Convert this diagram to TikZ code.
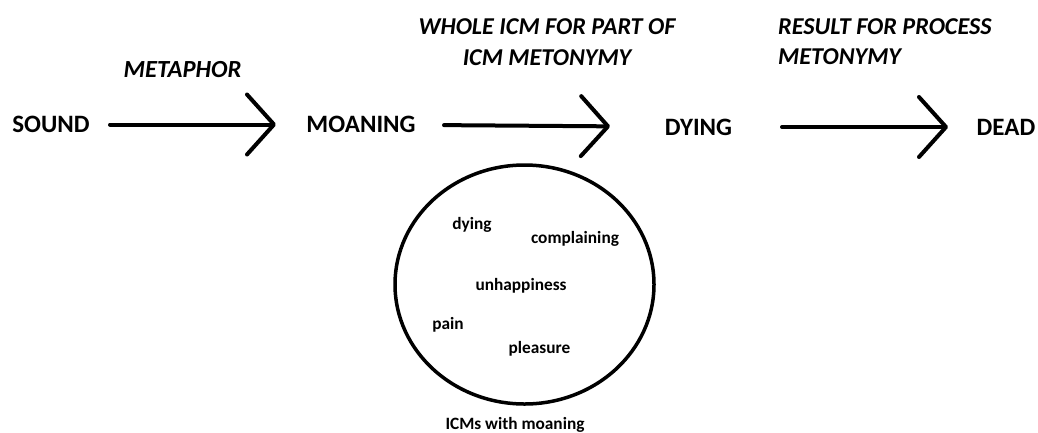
\documentclass[tikz,border=0pt]{standalone}
\usepackage{fontspec}
\setmainfont{Carlito}
\usetikzlibrary{arrows.meta,shapes.geometric}
\tikzset{
  big/.style={font=\fontsize{25}{30}\selectfont\bfseries, inner sep=0pt, text height=16pt, text depth=0pt},
  lab/.style={font=\fontsize{24.2}{30.5}\selectfont\bfseries\itshape, inner sep=0pt},
  small/.style={font=\fontsize{17.3}{20}\selectfont\bfseries, inner sep=0pt, anchor=base},
  arr/.style={line width=4pt, line cap=round, -{Straight Barb[length=27pt,width=60pt,round]}},
  icm/.style={draw, ellipse, line width=3.5pt, minimum width=259pt, minimum height=239pt, inner sep=0pt}
}
\begin{document}
\begin{tikzpicture}[x=1pt,y=-1pt]
\useasboundingbox (0,0) rectangle (1038,432);
\fill[white] (0,0) rectangle (1038,432);
\node[big] (sound) at (51,124.5) {SOUND};
\node[big] (moaning) at (361,124.5) {MOANING};
\node[big] (dying) at (698.5,127) {DYING};
\node[big] (dead) at (1006,127) {DEAD};
\draw[arr, shorten <=59pt, shorten >=85pt] (sound.center) -- (moaning.center);
\draw[arr, shorten <=83pt, shorten >=88.5pt] (moaning.center) -- (dying.center);
\draw[arr, shorten <=83.5pt, shorten >=58pt] (dying.center) -- (dead.center);
\node[lab, font=\fontsize{24.6}{30}\selectfont\bfseries\itshape] (metaphor) at (182.5,70) {METAPHOR};
\node[lab, align=center] (whole) at (547,42) {WHOLE ICM FOR PART OF\\ICM METONYMY};
\node[lab, align=left, anchor=west] (result) at (778,41.5) {RESULT FOR PROCESS\\METONYMY};
\node[icm] (ellipse) at (524.5,284.5) {};
\node[small] (t1) at (472,229) {dying};
\node[small] (t2) at (575,243) {complaining};
\node[small] (t3) at (521,290) {unhappiness};
\node[small] (t4) at (448,329) {pain};
\node[small] (t5) at (539.5,353) {pleasure};
\node[small] (cap) at (515,429.5) {ICMs with moaning};
\end{tikzpicture}
\end{document}
